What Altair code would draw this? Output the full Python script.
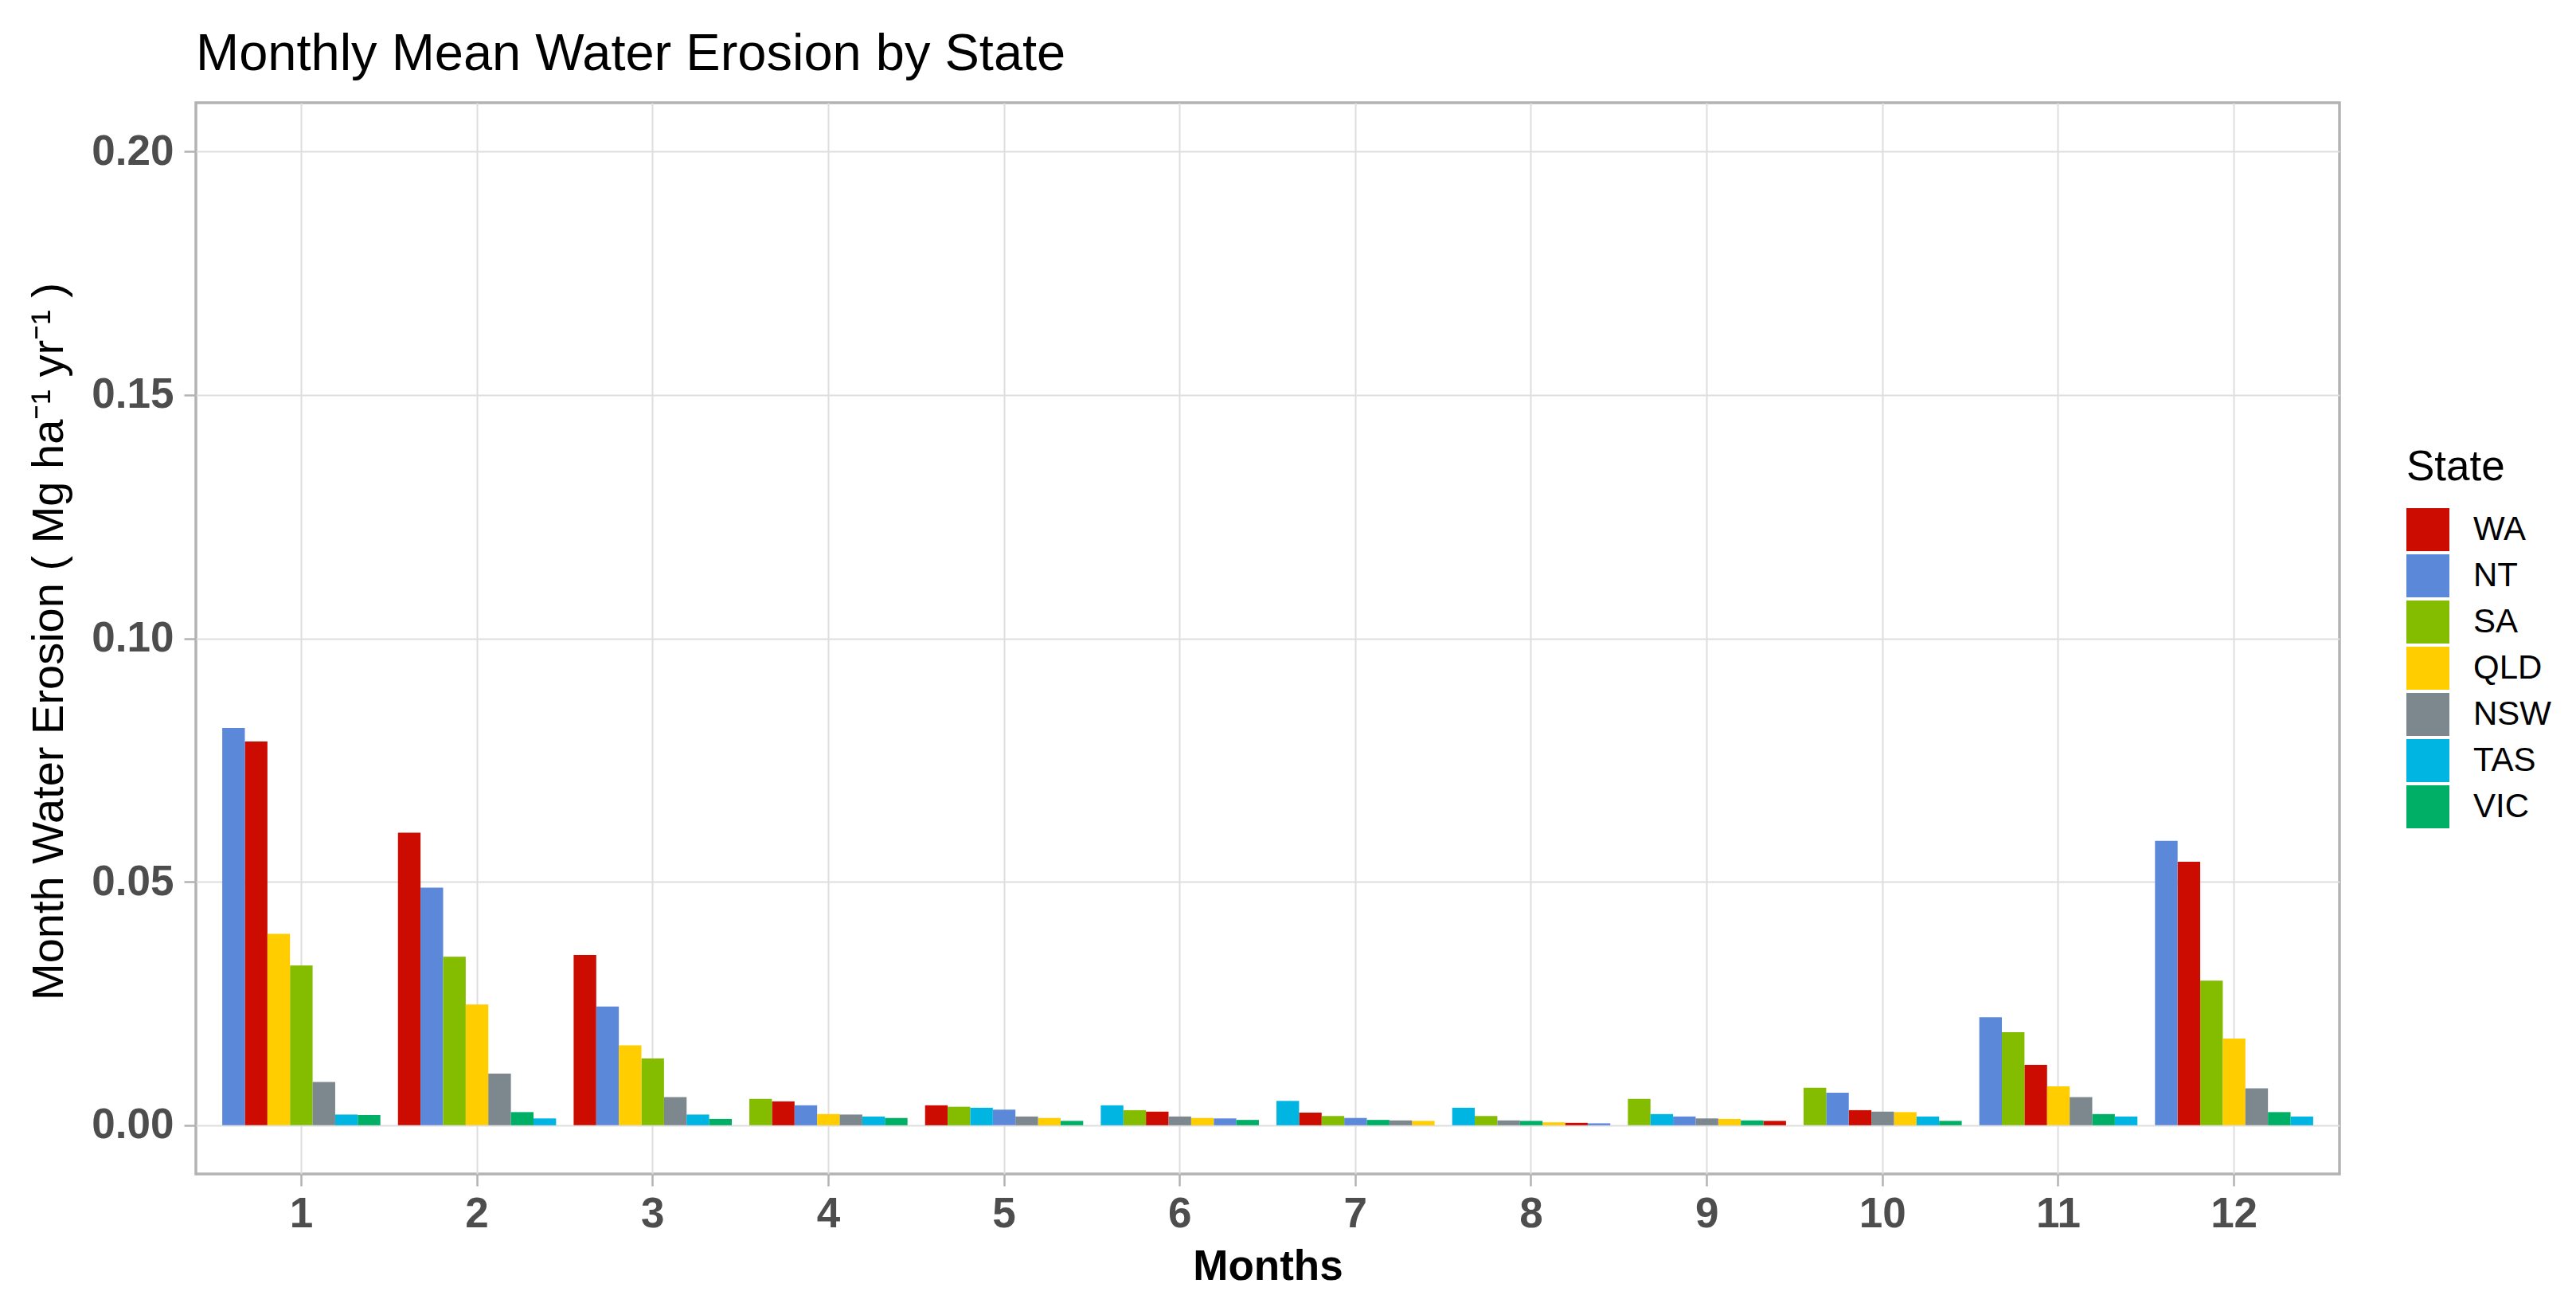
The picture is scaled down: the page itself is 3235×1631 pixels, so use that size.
import altair as alt
import pandas as pd

months = list(range(1, 13))
states = ["WA", "NT", "SA", "QLD", "NSW", "TAS", "VIC"]
colors = ["#CC0C00", "#5C88DA", "#84BD00", "#FFCD00", "#7C878E", "#00B5E2", "#00AF66"]

wa = [0.0788, 0.0601, 0.0350, 0.0049, 0.0041, 0.0028, 0.0026, 0.0005, 0.0009, 0.0031, 0.0124, 0.0541]
nt = [0.0816, 0.0488, 0.0244, 0.0041, 0.0032, 0.0014, 0.0015, 0.0004, 0.0018, 0.0067, 0.0222, 0.0584]
sa = [0.0328, 0.0346, 0.0137, 0.0054, 0.0038, 0.0031, 0.0019, 0.0019, 0.0054, 0.0077, 0.0191, 0.0297]
qld = [0.0393, 0.0248, 0.0164, 0.0023, 0.0015, 0.0015, 0.0009, 0.0006, 0.0013, 0.0027, 0.0080, 0.0178]
nsw = [0.0089, 0.0106, 0.0058, 0.0022, 0.0018, 0.0018, 0.0010, 0.0010, 0.0014, 0.0028, 0.0058, 0.0076]
tas = [0.0022, 0.0014, 0.0022, 0.0018, 0.0036, 0.0041, 0.0050, 0.0036, 0.0023, 0.0018, 0.0018, 0.0018]
vic = [0.0021, 0.0027, 0.0013, 0.0015, 0.0009, 0.0011, 0.0011, 0.0009, 0.0010, 0.0009, 0.0023, 0.0027]

y_ticks = [0.0, 0.05, 0.10, 0.15, 0.20]

rows = []
for s, vals in zip(states, [wa, nt, sa, qld, nsw, tas, vic]):
    for m, v in zip(months, vals):
        rows.append({"Month": m, "State": s, "Erosion": v})
df = pd.DataFrame(rows)

FONT = "Liberation Sans"

chart = (
    alt.Chart(df)
    .transform_window(
        rank="row_number()",
        groupby=["Month"],
        sort=[alt.SortField("Erosion", order="descending")],
    )
    .mark_bar()
    .encode(
        x=alt.X(
            "Month:O",
            scale=alt.Scale(paddingInner=0.1, paddingOuter=0.15),
            axis=alt.Axis(
                title="Months",
                titleFont=FONT,
                titleFontSize=53,
                titleFontWeight="bold",
                titleColor="black",
                titleBaseline="alphabetic",
                titleY=132,
                labelFont=FONT,
                labelFontSize=53,
                labelFontWeight="bold",
                labelColor="#4D4D4D",
                labelAngle=0,
                labelPadding=9,
                tickColor="#B3B3B3",
                tickWidth=2.5,
                tickSize=15,
                domain=False,
                grid=True,
                gridColor="#DEDEDE",
                gridWidth=2,
                bandPosition=0.5,
            ),
        ),
        xOffset=alt.XOffset("rank:O", scale=alt.Scale(paddingInner=0, paddingOuter=0)),
        y=alt.Y(
            "Erosion:Q",
            stack=None,
            scale=alt.Scale(domain=[-0.01, 0.21], nice=False),
            axis=alt.Axis(
                values=y_ticks,
                format=".2f",
                title="Month Water Erosion ( Mg ha\u207b\u00b9 yr\u207b\u00b9 )",
                titleFont=FONT,
                titleFontSize=56,
                titleFontWeight="normal",
                titleColor="black",
                titleAngle=270,
                titleBaseline="alphabetic",
                titleAlign="center",
                titleX=-168,
                titleY=676,
                labelFont=FONT,
                labelFontSize=53,
                labelFontWeight="bold",
                labelColor="#4D4D4D",
                labelPadding=13,
                tickColor="#B3B3B3",
                tickWidth=2.5,
                tickSize=15,
                domain=False,
                grid=True,
                gridColor="#DEDEDE",
                gridWidth=2,
            ),
        ),
        color=alt.Color(
            "State:N",
            scale=alt.Scale(domain=states, range=colors),
            legend=alt.Legend(
                title="State",
                orient="none",
                legendX=2776,
                legendY=432,
                padding=0,
                titleFont=FONT,
                titleFontSize=53,
                titleFontWeight="normal",
                titleColor="black",
                titlePadding=24,
                labelFont=FONT,
                labelFontSize=42,
                labelColor="black",
                labelOffset=30,
                symbolType="square",
                symbolSize=2916,
                symbolStrokeWidth=0,
                symbolOpacity=1,
                rowPadding=4,
            ),
        ),
    )
    .properties(
        width=2692,
        height=1345,
        title=alt.Title(
            "Monthly Mean Water Erosion by State",
            anchor="start",
            frame="group",
            font=FONT,
            fontSize=65,
            fontWeight="normal",
            color="black",
            baseline="alphabetic",
            offset=42,
            dy=66,
        ),
        autosize=alt.AutoSizeParams(type="none"),
        padding={"left": 238, "top": 121, "right": 280, "bottom": 146},
    )
    .configure_view(stroke="#B3B3B3", strokeWidth=3.5)
)

chart.save("out.html", embed_options={"renderer": "svg", "actions": False})
